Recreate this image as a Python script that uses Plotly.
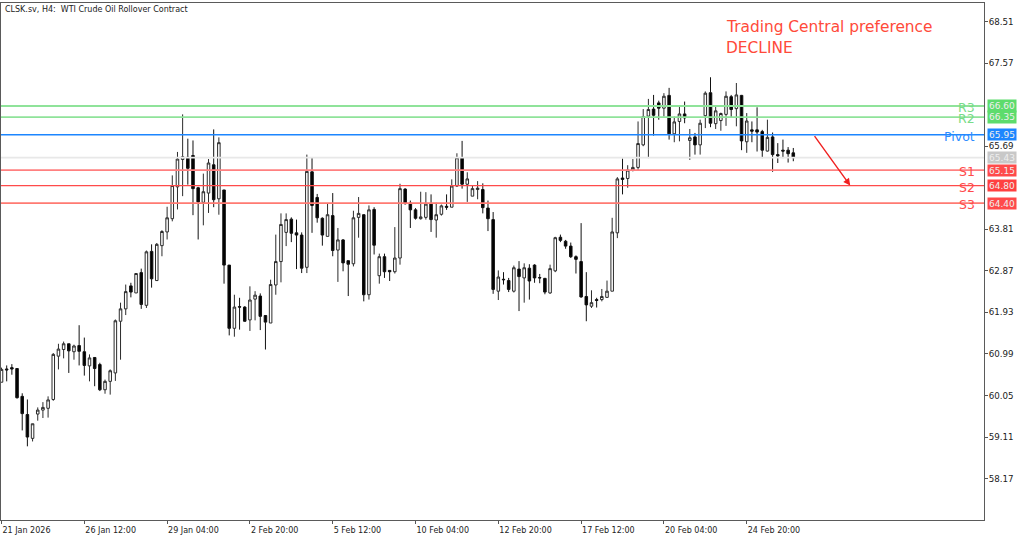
import plotly.graph_objects as go

opens = [60.35,60.65,60.68,60.66,60.03,59.62,59.08,59.63,59.72,59.76,
59.96,60.94,61.09,61.22,61.04,61.18,61.04,60.72,60.91,60.75,
60.18,60.37,60.56,61.73,62.01,62.53,62.37,62.83,62.09,63.31,
62.65,63.44,63.75,64.05,64.77,65.39,65.44,65.48,64.75,64.42,
64.63,65.27,64.50,64.70,63.00,61.57,62.06,62.05,61.76,62.23,
62.30,61.86,61.69,62.55,63.08,63.74,64.04,63.73,63.68,62.95,
65.11,64.53,64.06,63.65,64.12,63.34,63.57,63.10,63.03,64.08,
64.14,62.33,64.26,62.76,63.19,62.88,62.85,63.16,64.72,64.40,
64.25,64.05,64.08,64.38,64.02,64.15,64.33,64.31,64.79,65.43,
64.83,64.56,64.71,64.71,64.29,64.03,62.41,62.68,62.65,62.41,
62.91,62.71,62.93,63.00,62.72,62.70,62.37,62.87,63.63,63.54,
63.43,63.19,63.08,62.29,62.07,62.22,62.22,62.27,62.41,63.73,
64.97,64.96,65.15,65.21,65.72,66.37,66.53,66.67,66.55,66.84,
65.97,66.25,66.42,65.82,65.90,65.72,66.38,66.90,66.20,66.27,
66.41,66.81,66.54,66.84,65.79,66.06,66.06,66.02,65.58,65.90,
65.50,65.60,65.60,65.54]

closes = [60.64,60.63,60.65,60.00,59.64,59.11,59.41,59.72,59.78,59.95,
60.98,61.10,61.22,61.06,61.17,61.05,60.73,60.90,60.66,60.18,
60.37,60.61,61.74,62.01,62.40,62.39,62.81,62.11,63.30,62.69,
63.47,63.76,64.07,64.80,65.40,65.45,65.19,64.73,64.43,64.66,
65.31,64.48,65.77,63.00,61.57,62.05,62.05,61.73,62.21,62.32,
61.84,61.71,62.56,63.08,63.92,64.03,63.72,63.68,62.93,65.12,
64.35,64.07,63.68,64.14,63.33,63.57,63.05,63.02,64.07,64.17,
62.33,64.25,63.45,63.19,62.85,62.85,63.16,64.73,64.39,64.25,
64.06,64.09,64.38,64.03,64.14,64.34,64.31,64.79,65.43,64.83,
64.95,64.73,64.74,64.30,64.05,62.45,62.73,62.67,62.45,62.94,
62.74,62.94,62.64,62.71,62.71,62.39,62.92,63.62,63.56,63.43,
63.19,63.13,62.28,62.10,62.15,62.20,62.29,62.41,63.75,64.95,
64.94,65.15,65.21,65.75,66.36,66.52,66.39,66.55,66.82,65.97,
66.24,66.42,66.33,65.88,65.72,66.21,66.89,66.21,66.49,66.43,
66.82,66.52,66.85,65.81,66.26,66.03,66.01,65.60,65.89,65.50,
65.47,65.58,65.52,65.43]

highs = [60.68,60.73,60.76,60.66,60.10,59.96,59.41,59.78,59.90,60.03,
61.01,61.22,61.27,61.22,61.20,61.64,61.36,60.98,60.92,60.79,
60.41,60.64,61.77,62.15,62.56,62.60,62.81,62.92,63.33,63.47,
63.50,63.79,64.32,65.03,65.56,66.41,65.86,65.82,64.77,65.07,
65.40,66.07,65.89,64.70,63.00,62.33,62.26,62.07,62.52,62.41,
62.36,61.86,62.67,63.69,64.17,64.17,64.08,64.03,63.74,65.50,
65.43,64.61,64.08,64.39,64.63,63.84,63.59,63.10,64.23,64.54,
64.15,64.35,64.31,63.26,63.26,62.88,63.86,64.84,64.74,64.46,
64.29,64.66,64.65,64.60,64.41,64.37,64.60,64.94,65.53,65.81,
65.10,64.79,64.90,64.85,64.46,64.20,62.88,62.84,62.71,62.99,
63.09,63.04,63.02,63.02,62.80,62.71,63.01,63.64,63.69,63.57,
63.51,63.22,63.95,62.84,62.43,62.26,62.46,62.65,64.07,64.99,
65.41,65.26,65.40,66.25,66.53,66.76,66.85,66.72,66.89,67.01,
66.36,66.59,66.70,66.08,65.99,66.29,66.93,67.25,66.59,66.45,
66.93,66.85,67.12,66.85,66.44,66.25,66.57,66.06,66.29,66.00,
65.76,65.84,65.67,65.65]

lows = [60.35,60.37,60.52,59.98,59.26,58.90,59.01,59.48,59.54,59.55,
59.93,60.64,60.89,60.56,60.86,60.73,60.50,60.37,60.26,60.15,
60.09,60.07,60.38,60.86,61.87,62.27,62.37,62.01,62.03,62.49,
62.64,63.20,63.58,63.99,64.26,64.56,64.82,64.13,63.58,63.90,
64.18,64.31,64.14,62.58,61.41,61.38,61.54,61.72,61.51,61.75,
61.53,61.09,61.69,62.33,62.61,63.43,63.52,62.91,62.82,62.82,
63.73,63.96,63.44,63.65,63.20,62.62,62.86,62.30,62.97,63.62,
62.18,62.22,63.24,62.58,62.71,62.64,62.81,63.01,64.37,63.84,
64.03,64.03,64.03,63.75,63.62,64.12,64.25,64.31,64.77,64.73,
64.43,64.56,64.49,64.17,63.77,62.35,62.21,62.56,62.39,62.38,
61.96,62.15,62.22,62.60,62.59,62.34,62.35,62.84,63.52,63.37,
63.16,62.81,62.26,61.73,62.03,62.04,62.18,62.26,62.41,63.61,
64.60,64.75,65.12,65.14,65.69,65.42,65.93,66.29,66.36,65.84,
65.78,65.80,66.21,65.38,65.50,65.50,66.10,66.12,66.08,66.04,
66.15,66.33,66.14,65.60,65.54,65.78,65.57,65.42,65.57,65.11,
65.31,65.42,65.32,65.35]

bar_index = list(range(len(opens)))

x_tick_index = [0, 16, 32, 48, 64, 80, 96, 112, 128, 144]
x_tick_text = ["21 Jan 2026", "26 Jan 12:00", "29 Jan 04:00", "2 Feb 20:00", "5 Feb 12:00",
               "10 Feb 04:00", "12 Feb 20:00", "17 Feb 12:00", "20 Feb 04:00", "24 Feb 20:00"]
y_ticks = [68.51, 67.57, 65.69, 63.81, 62.87, 61.93, 60.99, 60.05, 59.11, 58.17]

level_names = ["R3", "R2", "Pivot", "", "S1", "S2", "S3"]
level_values = [66.60, 66.35, 65.95, 65.43, 65.15, 64.80, 64.40]
level_line_colors = ["#8fe39a", "#8fe39a", "#1c86ff", "#e8e8e8", "#ff8080", "#ff4a4a", "#ff7a72"]
level_line_widths = [1.8, 1.8, 1.4, 1.8, 1.8, 1.3, 1.8]
level_box_colors = ["#5ddc6c", "#5ddc6c", "#1c86ff", "#c8c8c8", "#ff4a4a", "#ff4040", "#ff4a4a"]
level_text_colors = ["#78dc88", "#78dc88", "#2a8cff", "#c8c8c8", "#ff4a4a", "#ff4a4a", "#ff4a4a"]

arrow_index = [156.9, 164.0]
arrow_price = [65.95, 64.80]

FONT = "DejaVu Sans"

fig = go.Figure()
for val, col, w in zip(level_values, level_line_colors, level_line_widths):
    fig.add_hline(y=val, line=dict(color=col, width=w), layer="above")

fig.add_trace(go.Candlestick(
    x=bar_index, open=opens, high=highs, low=lows, close=closes,
    increasing=dict(line=dict(color="#2b2b2b", width=1), fillcolor="#ffffff"),
    decreasing=dict(line=dict(color="#111111", width=1), fillcolor="#000000"),
    showlegend=False,
))

annotations = []
for name, val, box, txt in zip(level_names, level_values, level_box_colors, level_text_colors):
    annotations.append(dict(xref="paper", yref="y", x=1, y=val, xanchor="left", yanchor="middle",
                            xshift=2.5, text=f"{val:.2f}", showarrow=False, bgcolor=box, width=28,
                            height=12 if name in ("R3", "R2") else 11, borderpad=0, align="center",
                            font=dict(family=FONT, size=9, color="#eeeeee")))
    if name:
        annotations.append(dict(xref="paper", yref="y", x=1, y=val, xanchor="right", yanchor="middle",
                                xshift=-8, yshift=-1, text=name, showarrow=False, borderpad=0, height=10,
                                font=dict(family=FONT, size=12.5, color=txt)))

annotations += [
    dict(xref="paper", yref="paper", x=0, y=1, xanchor="left", yanchor="top", xshift=3, yshift=-1,
         text="CLSK.sv, H4:  WTI Crude Oil Rollover Contract", showarrow=False, borderpad=0,
         font=dict(family=FONT, size=8, color="#222222")),
    dict(xref="paper", yref="paper", x=0, y=1, xanchor="left", yanchor="middle", xshift=724, yshift=-24,
         text="Trading Central preference", showarrow=False, borderpad=0,
         font=dict(family=FONT, size=15.4, color="#ff4a3a")),
    dict(xref="paper", yref="paper", x=0, y=1, xanchor="left", yanchor="middle", xshift=724, yshift=-45,
         text="DECLINE", showarrow=False, borderpad=0,
         font=dict(family=FONT, size=15.4, color="#ff4a3a")),
    dict(xref="x", yref="y", axref="x", ayref="y", x=arrow_index[1], y=arrow_price[1],
         ax=arrow_index[0], ay=arrow_price[0], text="", showarrow=True, arrowhead=2,
         arrowsize=1, arrowwidth=1.4, arrowcolor="#f02020"),
]

fig.update_layout(
    width=1024, height=539, margin=dict(l=1, r=40, t=3, b=19, pad=0),
    paper_bgcolor="#ffffff", plot_bgcolor="#ffffff", showlegend=False,
    font=dict(family=FONT, size=9, color="#222222"),
    annotations=annotations,
    xaxis=dict(range=[-0.1, 189.85], tickmode="array", tickvals=x_tick_index, ticktext=x_tick_text,
               ticks="outside", ticklen=3, ticklabelstandoff=2, tickcolor="#555555", showgrid=False,
               zeroline=False, rangeslider=dict(visible=False), showline=True, linecolor="#5a5a5a",
               mirror=True, linewidth=1, ticklabelposition="outside right",
               tickfont=dict(family=FONT, size=8, color="#222222")),
    yaxis=dict(side="right", range=[57.233, 68.93], tickmode="array", tickvals=y_ticks,
               ticktext=[f"{v:.2f}" for v in y_ticks], ticks="outside", ticklen=3,
               ticklabelstandoff=-1, tickcolor="#555555", showgrid=False, zeroline=False,
               showline=True, linecolor="#5a5a5a", mirror=True, linewidth=1,
               tickfont=dict(family=FONT, size=8.7, color="#222222")),
)

fig.write_html("out.html", post_script="document.body.style.margin='0';",
               config=dict(displayModeBar=False))
